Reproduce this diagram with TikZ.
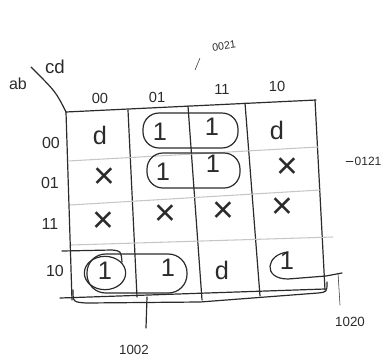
\documentclass[tikz,border=0pt]{standalone}
\usepackage{fontspec}
\setmainfont{Liberation Sans}
\usepackage{xcolor}
\usetikzlibrary{positioning}
\definecolor{ink}{HTML}{2B2B2B}

\begin{document}
\begin{tikzpicture}[x=0.75pt,y=-0.75pt,
        pen/.style={draw=ink,line width=0.9pt,line cap=round,line join=round},
        faint/.style={draw=gray!45,line width=0.8pt},
        grp/.style={pen,rounded corners=12pt},
        cell/.style={text=ink,inner sep=0pt,font=\fontsize{19}{19}\selectfont},
        hdr/.style={text=ink,inner sep=1pt,font=\fontsize{11}{11}\selectfont},
        tag/.style={text=ink,inner sep=1pt,font=\fontsize{8}{8}\selectfont}]
        \useasboundingbox (0,0) rectangle (385,361);
        % grid
        \draw[pen] (66,112) -- (316,100);
        \draw[pen] (60,298) -- (325,289);
        \foreach \xt/\yt/\xb/\yb in {66/112/72/300,128/110/137/297,188/106/202/300,
                                     245/103/260/296,315/100/325/290}
          \draw[pen] (\xt,\yt) -- (\xb,\yb);
        \draw[faint] (68,161) -- (318,147);
        \draw[faint] (70,205) -- (320,190);
        \draw[faint] (71,245) -- (333,237);
        % corner
        \draw[pen] (66,112) .. controls (56,92) .. (31,67);
        \node[hdr,font=\fontsize{14}{14}\selectfont] (cd) at (55,67) {cd};
        \node[hdr,font=\fontsize{12}{12}\selectfont] (ab) at (18,84) {ab};
        \foreach \c/\x/\y in {00/100/98,01/157/97,11/222/89,10/277/86}
          \node[hdr] (col\c) at (\x,\y) {\c};
        \foreach \r/\x/\y in {00/51/143,01/50/183,11/50/224,10/55/271}
          \node[hdr,font=\fontsize{12}{12}\selectfont] (row\r) at (\x,\y) {\r};
        % cells
        \foreach \r/\c/\x/\y/\t in {00/00/100/135/d,00/01/160/132/1,00/11/212/127/1,00/10/277/130/d,
                                    01/01/163/172/1,01/11/213/164/1,10/00/105/271/1,
                                    10/01/168/268/1,10/11/222/270/d,10/10/287/261/1}
          \node[cell] (m\r\c) at (\x,\y) {\t};
        \foreach \r/\c/\x/\y in {01/00/104/178,01/10/287/168,11/00/103/222,
                                 11/01/165/215,11/11/223/212,11/10/282/208}
          \node[cell,font=\fontsize{28}{28}\selectfont] (m\r\c) at (\x,\y) {×};
        % groups
        \draw[grp] (143,113) rectangle (238,148);
        \draw[grp] (147,153) rectangle (240,188);
        \draw[grp,rounded corners=14pt] (87,254) rectangle (187,293);
        \draw[pen] (105,273) ellipse [x radius=15.5pt,y radius=12.5pt];
        \draw[pen] (62,251) -- (112,250) .. controls (121,251) .. (122,262);
        \draw[pen] (288,252) .. controls (266,254) and (262,279) .. (288,279)
          -- (326,276) -- (342,273);
        \draw[pen] (73,290) .. controls (73,302) .. (86,303) -- (200,302)
          -- (318,293) .. controls (327,292) .. (327,282);
        % labels
        \node[tag,rotate=8] (t0021) at (224,46) {0021};
        \node[tag,font=\fontsize{9}{9}\selectfont] (t0121) at (368,161) {0121};
        \node[tag,font=\fontsize{10}{10}\selectfont] (t1002) at (134,350) {1002};
        \node[tag,font=\fontsize{10}{10}\selectfont] (t1020) at (350,322) {1020};
        \coordinate (a0021) at (195,70);
        \coordinate (b0021) at (200,58);
        \coordinate (a1002) at (147,297);
        \coordinate (b1002) at (146,328);
        \coordinate (a1020) at (338,273);
        \coordinate (b1020) at (340,305);
        \draw[pen,thin] (a0021) -- (b0021);
        \draw[pen,thin] (t0121.west) -- ++(-7,0);
        \draw[pen] (a1002) -- (b1002);
        \draw[pen,thin] (a1020) -- (b1020);
\end{tikzpicture}
\end{document}
